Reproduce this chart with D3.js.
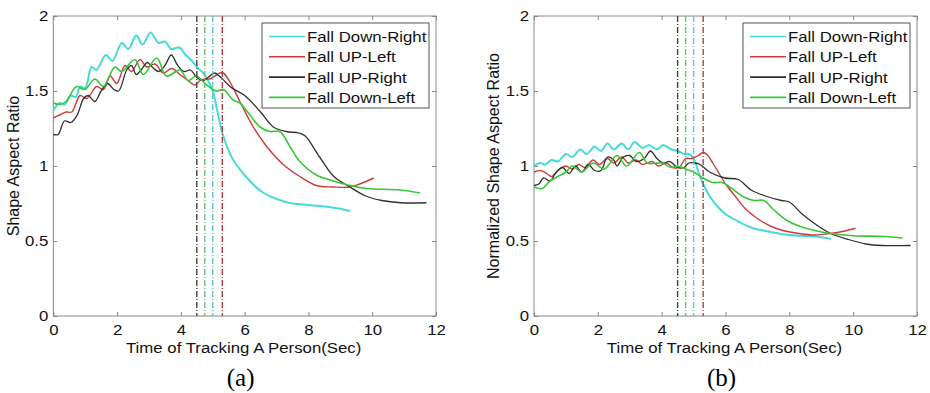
<!DOCTYPE html>
<html>
<head>
<meta charset="utf-8">
<script src="https://cdn.jsdelivr.net/npm/d3@7"></script>
<style>
body { margin: 0; background: #fff; }
svg text { font-family: "Liberation Sans", Arial, sans-serif; }
</style>
</head>
<body>
<div id="plot"></div>
<script>
var W = 930, H = 393;

var xTicks = [0, 2, 4, 6, 8, 10, 12];
var yTicks = [0, 0.5, 1, 1.5, 2];
var legendNames = ['Fall Down-Right', 'Fall UP-Left', 'Fall UP-Right', 'Fall Down-Left'];
var lineColors = ['#48dada', '#cc3a3e', '#303030', '#36c836'];
var lineWidths = [2, 1.4, 1.3, 1.6];
var markColors = ['#55cccc', '#a84048', '#444444', '#70c070'];
var fallTimes = [5.0, 5.3, 4.5, 4.75];   // dashed markers, same order as legend

// panel (a): shape aspect ratio, [time, value]
var aDownRight = [[0,1.37],[0.2,1.42],[0.35,1.41],[0.55,1.47],[0.7,1.46],[0.85,1.53],[1.0,1.52],[1.2,1.66],[1.35,1.64],
  [1.65,1.74],[1.85,1.70],[2.15,1.82],[2.35,1.78],[2.6,1.87],[2.8,1.81],[3.05,1.89],[3.3,1.82],[3.5,1.83],[3.7,1.78],
  [3.95,1.79],[4.15,1.74],[4.35,1.70],[4.5,1.66],[4.7,1.62],[4.85,1.57],[5.0,1.50],[5.15,1.36],[5.3,1.22],[5.5,1.10],
  [5.7,1.02],[6.0,0.94],[6.3,0.87],[6.6,0.82],[7.0,0.78],[7.5,0.75],[8.0,0.74],[8.5,0.73],[9.0,0.715],[9.3,0.70]];
var aUpLeft = [[0,1.32],[0.2,1.34],[0.4,1.36],[0.58,1.36],[0.84,1.47],[1.05,1.45],[1.36,1.53],[1.57,1.51],[1.78,1.60],
  [1.99,1.55],[2.25,1.67],[2.45,1.63],[2.72,1.71],[2.93,1.66],[3.19,1.68],[3.45,1.62],[3.71,1.65],[3.97,1.61],[4.28,1.56],
  [4.44,1.54],[4.6,1.57],[4.75,1.58],[4.91,1.58],[5.22,1.62],[5.33,1.62],[5.54,1.56],[5.85,1.43],[6.27,1.26],[6.69,1.13],
  [7.21,1.01],[7.73,0.93],[8.25,0.87],[8.78,0.86],[9.3,0.86],[9.61,0.88],[10.05,0.92]];
var aUpRight = [[0,1.21],[0.15,1.21],[0.35,1.30],[0.55,1.29],[0.75,1.34],[0.95,1.45],[1.1,1.47],[1.3,1.43],[1.5,1.50],
  [1.7,1.55],[1.9,1.51],[2.05,1.50],[2.3,1.64],[2.45,1.67],[2.6,1.61],[2.75,1.64],[2.95,1.69],[3.1,1.66],[3.3,1.63],
  [3.5,1.67],[3.7,1.74],[3.9,1.67],[4.1,1.63],[4.3,1.64],[4.5,1.59],[4.7,1.57],[4.85,1.59],[5.05,1.62],[5.2,1.60],
  [5.4,1.56],[5.6,1.52],[6.0,1.47],[6.5,1.36],[6.9,1.26],[7.3,1.23],[7.7,1.22],[7.9,1.20],[8.35,1.06],[8.8,0.93],
  [9.3,0.86],[9.8,0.80],[10.3,0.77],[10.9,0.755],[11.7,0.755]];
var aDownLeft = [[0,1.42],[0.21,1.41],[0.4,1.43],[0.73,1.53],[0.99,1.51],[1.3,1.58],[1.57,1.53],[1.93,1.66],[2.14,1.63],
  [2.56,1.71],[2.82,1.61],[3.24,1.72],[3.55,1.60],[3.97,1.64],[4.23,1.57],[4.49,1.60],[4.81,1.54],[5.12,1.50],[5.33,1.51],
  [5.64,1.44],[5.85,1.42],[6.06,1.37],[6.48,1.26],[6.79,1.23],[7.1,1.23],[7.42,1.13],[7.73,1.03],[8.25,0.94],[8.78,0.90],
  [9.3,0.87],[9.82,0.85],[10.87,0.84],[11.5,0.82]];

// panel (b): normalized shape aspect ratio
var bDownRight = [[0,1.0],[0.2,1.02],[0.35,1.01],[0.55,1.04],[0.75,1.03],[1.0,1.08],[1.2,1.06],[1.45,1.11],[1.65,1.08],
  [1.9,1.13],[2.1,1.10],[2.3,1.15],[2.5,1.11],[2.75,1.15],[2.95,1.11],[3.15,1.16],[3.4,1.12],[3.6,1.14],[3.85,1.11],
  [4.05,1.14],[4.3,1.11],[4.5,1.10],[4.7,1.08],[4.85,1.08],[5.0,1.05],[5.15,0.96],[5.3,0.88],[5.5,0.80],[5.75,0.73],
  [6.0,0.68],[6.4,0.63],[6.8,0.59],[7.3,0.565],[7.8,0.545],[8.3,0.535],[8.8,0.53],[9.3,0.515]];
var bUpLeft = [[0,0.96],[0.2,0.97],[0.4,0.95],[0.55,0.93],[0.8,0.98],[1.0,1.0],[1.2,0.98],[1.4,1.01],[1.6,0.99],
  [1.85,1.04],[2.05,1.01],[2.3,1.05],[2.5,1.02],[2.75,1.06],[2.95,1.02],[3.2,1.04],[3.4,1.01],[3.7,1.03],[3.9,1.0],
  [4.15,1.02],[4.35,0.99],[4.55,0.99],[4.75,1.05],[4.95,1.05],[5.15,1.07],[5.3,1.09],[5.45,1.07],[5.6,1.02],[5.8,0.95],
  [6.0,0.88],[6.3,0.80],[6.6,0.72],[7.0,0.65],[7.4,0.60],[7.8,0.57],[8.3,0.55],[8.8,0.54],[9.3,0.55],[9.7,0.565],[10.07,0.585]];
var bUpRight = [[0,0.87],[0.15,0.88],[0.3,0.92],[0.5,0.90],[0.7,0.96],[0.9,0.99],[1.1,0.95],[1.3,1.0],[1.5,0.96],
  [1.7,1.01],[1.9,0.97],[2.1,0.97],[2.3,1.06],[2.5,1.04],[2.6,1.00],[2.8,1.06],[3.0,1.07],[3.2,1.03],[3.45,1.05],
  [3.65,1.10],[3.85,1.05],[4.05,1.02],[4.25,1.03],[4.5,0.99],[4.7,0.99],[4.85,1.02],[5.05,1.02],[5.2,1.01],[5.5,0.96],
  [5.98,0.92],[6.4,0.91],[6.8,0.84],[7.25,0.80],[7.75,0.77],[8.0,0.76],[8.4,0.68],[8.9,0.60],[9.3,0.55],[9.85,0.51],
  [10.4,0.48],[10.9,0.47],[11.8,0.47]];
var bDownLeft = [[0,0.86],[0.25,0.85],[0.5,0.90],[0.75,0.93],[1.0,0.96],[1.2,1.0],[1.5,0.96],[1.85,1.02],[2.2,0.98],
  [2.6,1.07],[2.9,1.0],[3.3,1.09],[3.55,1.02],[4.0,1.02],[4.3,0.99],[4.5,1.0],[4.75,0.98],[5.0,0.96],[5.3,0.92],
  [5.6,0.89],[5.9,0.89],[6.2,0.85],[6.6,0.79],[6.9,0.77],[7.2,0.77],[7.5,0.71],[7.9,0.64],[8.3,0.60],[8.8,0.57],
  [9.3,0.55],[10.0,0.535],[11.0,0.53],[11.55,0.52]];

var svg = d3.select('#plot').append('svg')
  .attr('width', W)
  .attr('height', H)

// the source figure is a little stretched sideways, so text is too
var stretch = 'scale(1.12,1)'

function stretchedText(parent, px, py, size, anchor, str){
  return parent.append('g').attr('transform', 'translate(' + px + ',' + py + ')')
    .append('text')
    .attr('transform', stretch)
    .attr('text-anchor', anchor)
    .attr('font-size', size)
    .attr('fill', '#111')
    .text(str)
}

function drawPanel(left, right, series, ylabel, tag, labelX){
  var top = 16, bottom = 316
  var x = d3.scaleLinear().domain([0, 12]).range([left, right])
  var y = d3.scaleLinear().domain([0, 2]).range([bottom, top])
  var g = svg.append('g')

  // ticks on all four sides, pointing inwards
  var fmt = d3.format('')
  g.append('g').attr('transform', 'translate(0,' + bottom + ')')
    .call(d3.axisBottom(x).tickValues(xTicks).tickFormat(fmt).tickSizeInner(-4).tickSizeOuter(0).tickPadding(8))
  g.append('g').attr('transform', 'translate(0,' + top + ')')
    .call(d3.axisTop(x).tickValues(xTicks).tickFormat('').tickSizeInner(-4).tickSizeOuter(0))
  g.append('g').attr('class', 'yax').attr('transform', 'translate(' + left + ',0)')
    .call(d3.axisLeft(y).tickValues(yTicks).tickFormat(fmt).tickSizeInner(-4).tickSizeOuter(0).tickPadding(5))
  g.append('g').attr('transform', 'translate(' + right + ',0)')
    .call(d3.axisRight(y).tickValues(yTicks).tickFormat('').tickSizeInner(-4).tickSizeOuter(0))
  g.selectAll('.domain').remove()
  g.selectAll('.tick line').attr('stroke', '#888')
  g.selectAll('.tick text').attr('font-size', 15).attr('fill', '#111').attr('transform', stretch)
  g.selectAll('.yax .tick text').attr('x', -5 / 1.12)

  g.append('rect')
    .attr('x', left).attr('y', top)
    .attr('width', right - left).attr('height', bottom - top)
    .attr('fill', 'none').attr('stroke', '#888').attr('stroke-width', 1)

  var line = d3.line()
    .x(function(d){ return x(d[0]) })
    .y(function(d){ return y(d[1]) })
    .curve(d3.curveCatmullRom)

  for (var i in series){
    g.append('path').datum(series[i])
      .attr('d', line)
      .attr('fill', 'none')
      .attr('stroke', lineColors[i])
      .attr('stroke-width', lineWidths[i])
  }

  // dash-dot fall markers
  for (var j in fallTimes){
    g.append('line')
      .attr('x1', x(fallTimes[j])).attr('x2', x(fallTimes[j]))
      .attr('y1', top).attr('y2', bottom)
      .attr('stroke', markColors[j])
      .attr('stroke-width', 1.4)
      .attr('stroke-dasharray', '6,2,1,2')
  }

  // legend
  var lx = right - 174, ly = top + 7
  g.append('rect')
    .attr('x', lx).attr('y', ly).attr('width', 167).attr('height', 85)
    .attr('fill', '#fff').attr('stroke', '#555').attr('stroke-width', 1)
  for (var k in legendNames){
    var ry = ly + 13.5 + k * 20.3
    g.append('line')
      .attr('x1', lx + 7).attr('x2', lx + 43)
      .attr('y1', ry).attr('y2', ry)
      .attr('stroke', lineColors[k]).attr('stroke-width', 1.6)
    stretchedText(g, lx + 45, ry + 5.5, 15, 'start', legendNames[k])
  }

  stretchedText(g, (left + right) / 2 - 1, 353, 15, 'middle', 'Time of Tracking A Person(Sec)')
  g.append('text')
    .attr('transform', 'translate(' + labelX + ',' + ((top + bottom) / 2) + ') rotate(-90)')
    .attr('text-anchor', 'middle').attr('font-size', 16).attr('fill', '#111')
    .text(ylabel)
  g.append('text')
    .attr('x', (left + right) / 2 - 4).attr('y', 386)
    .attr('text-anchor', 'middle')
    .style('font-family', '"Liberation Serif", "Times New Roman", serif')
    .attr('font-size', 25).attr('fill', '#000')
    .text(tag)
}

drawPanel(53.3, 436, [aDownRight, aUpLeft, aUpRight, aDownLeft], 'Shape Aspect Ratio', '(a)', 19)
drawPanel(534, 917, [bDownRight, bUpLeft, bUpRight, bDownLeft], 'Normalized Shape Aspect Ratio', '(b)', 499)
</script>
</body>
</html>
